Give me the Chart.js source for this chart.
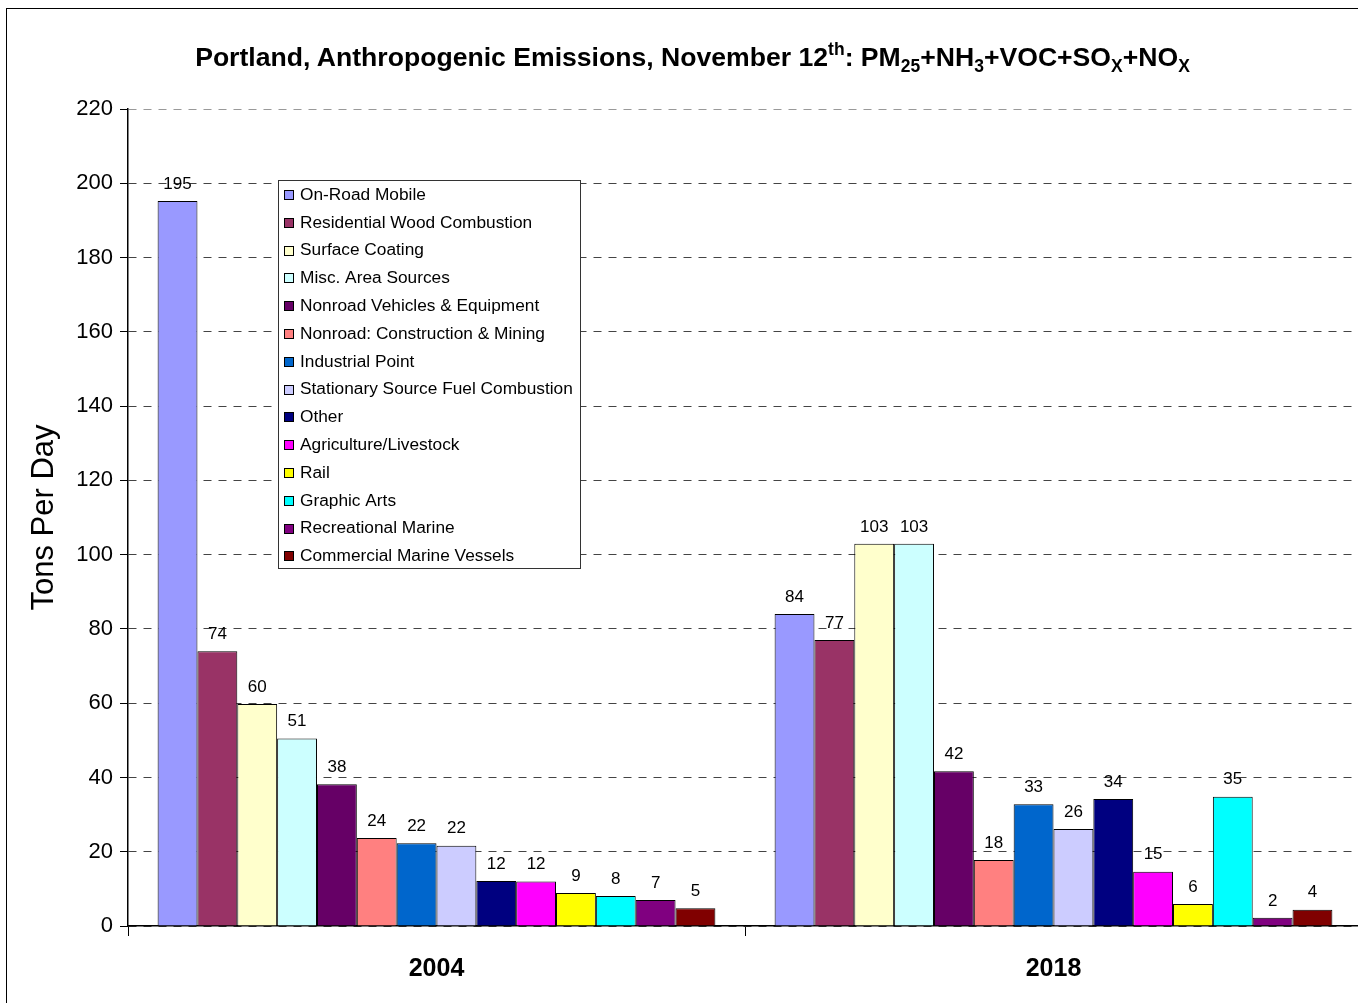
<!DOCTYPE html>
<html>
<head>
<meta charset="utf-8">
<script src="https://cdn.jsdelivr.net/npm/chart.js@4.4.1/dist/chart.umd.min.js"></script>
<style>
  html, body { margin: 0; padding: 0; background: #fff; overflow: hidden; }
  #wrap { position: relative; width: 1358px; height: 1003px; overflow: hidden; }
  #chart { position: absolute; left: 0; top: 0; }
  #title {
    position: absolute; left: 0; top: 40px; width: 1385px; text-align: center;
    font-family: "Liberation Sans", Arial, sans-serif; font-weight: bold; font-size: 26.6px;
    color: #000; white-space: nowrap; line-height: 34px;
  }
  #title sub, #title sup { font-size: 17.5px; line-height: 0; }
  #title sub { vertical-align: -6px; }
  #title sup { vertical-align: 11px; }
</style>
</head>
<body>
<div id="wrap">
  <canvas id="chart" width="1366" height="1003"></canvas>
  <div id="title">Portland, Anthropogenic Emissions, November 12<sup>th</sup>: PM<sub>25</sub>+NH<sub>3</sub>+VOC+SO<sub>X</sub>+NO<sub>X</sub></div>
</div>
<script>
// 年ごとのカテゴリ
const years = ['2004', '2018'];

// 排出源の名前（凡例の順）
const sources = [
    'On-Road Mobile',
    'Residential Wood Combustion',
    'Surface Coating',
    'Misc. Area Sources',
    'Nonroad Vehicles & Equipment',
    'Nonroad: Construction & Mining',
    'Industrial Point',
    'Stationary Source Fuel Combustion',
    'Other',
    'Agriculture/Livestock',
    'Rail',
    'Graphic Arts',
    'Recreational Marine',
    'Commercial Marine Vessels'
];

// 色（Excel標準パレット）
const colors = [
    '#9999FF', '#993366', '#FFFFCC', '#CCFFFF', '#660066', '#FF8080', '#0066CC',
    '#CCCCFF', '#000080', '#FF00FF', '#FFFF00', '#00FFFF', '#800080', '#800000'
];

// 値（トン／日）
const values2004 = [195.2, 74.0, 59.8, 50.5, 38.2, 23.7, 22.3, 21.6, 12.1, 12.0, 8.9, 8.1, 7.0, 4.8];
const values2018 = [84.0, 77.0, 102.9, 102.9, 41.7, 17.8, 32.8, 26.1, 34.2, 14.6, 5.9, 34.8, 2.2, 4.4];

const yTicksMax = 220;
const yTicksStep = 20;

const FONT = '"Liberation Sans", Arial, sans-serif';

// 棒の上に値を描く
const valueLabels = {
    id: 'valueLabels',
    afterDatasetsDraw(chart) {
        const ctx = chart.ctx;
        ctx.save();
        ctx.font = '17px ' + FONT;
        ctx.fillStyle = '#000';
        ctx.textAlign = 'center';
        ctx.textBaseline = 'middle';
        chart.data.datasets.forEach((ds, i) => {
            chart.getDatasetMeta(i).data.forEach((bar, j) => {
                ctx.fillText(Math.round(ds.data[j]), bar.x, bar.y - 17);
            });
        });
        ctx.restore();
    }
};

// グラフ内の凡例と外枠
const boxLegend = {
    id: 'boxLegend',
    afterDraw(chart) {
        const ctx = chart.ctx;
        ctx.save();
        // 外枠
        ctx.strokeStyle = '#000';
        ctx.lineWidth = 1;
        ctx.strokeRect(6.5, 8.5, 1450, 1100);

        const x0 = 278.5, y0 = 180.5, w = 302, h = 388;
        ctx.fillStyle = '#fff';
        ctx.fillRect(x0, y0, w, h);
        ctx.strokeStyle = '#333';
        ctx.strokeRect(x0, y0, w, h);

        ctx.font = '17.3px ' + FONT;
        ctx.textBaseline = 'middle';
        ctx.textAlign = 'left';
        chart.data.datasets.forEach((ds, i) => {
            const cy = 195 + i * 27.8;
            ctx.fillStyle = ds.backgroundColor;
            ctx.fillRect(284.5, Math.round(cy) - 4.5, 9, 9);
            ctx.strokeStyle = '#000';
            ctx.strokeRect(284.5, Math.round(cy) - 4.5, 9, 9);
            ctx.fillStyle = '#000';
            ctx.fillText(ds.label, 300, cy);
        });
        ctx.restore();
    }
};

const datasets = sources.map((name, i) => ({
    label: name,
    data: [values2004[i], values2018[i]],
    backgroundColor: colors[i],
    borderColor: '#000',
    borderWidth: 1,
    barPercentage: 1.0,
    categoryPercentage: 0.904
}));

new Chart(document.getElementById('chart'), {
    type: 'bar',
    data: { labels: years, datasets: datasets },
    options: {
        responsive: false,
        animation: false,
        devicePixelRatio: 1,
        layout: { padding: { top: 109, right: 4, bottom: 0, left: 0 } },
        plugins: {
            legend: { display: false },
            tooltip: { enabled: false }
        },
        scales: {
            x: {
                offset: true,
                grid: {
                    offset: true,
                    drawOnChartArea: false,
                    drawTicks: true,
                    tickLength: 10,
                    color: '#000'
                },
                border: { color: '#000', width: 1.5 },
                ticks: {
                    color: '#000',
                    padding: 18,
                    font: { family: FONT, size: 25, weight: 'bold' }
                },
                afterFit(scale) { scale.height = 77; }
            },
            y: {
                min: 0,
                max: yTicksMax,
                ticks: {
                    stepSize: yTicksStep,
                    color: '#000',
                    padding: 7,
                    font: { family: FONT, size: 22 }
                },
                grid: {
                    color: c => (c.tick && c.tick.value === yTicksMax) ? '#999' : '#444',
                    tickColor: '#000',
                    tickLength: 8,
                    tickBorderDash: [],
                    lineWidth: 1
                },
                border: { color: '#000', width: 1.5, dash: [8, 7] },
                title: {
                    display: true,
                    text: 'Tons Per Day',
                    color: '#000',
                    padding: { top: 26, bottom: 0 },
                    font: { family: FONT, size: 31 }
                },
                afterFit(scale) { scale.width = 128; }
            }
        }
    },
    plugins: [valueLabels, boxLegend]
});
</script>
</body>
</html>
